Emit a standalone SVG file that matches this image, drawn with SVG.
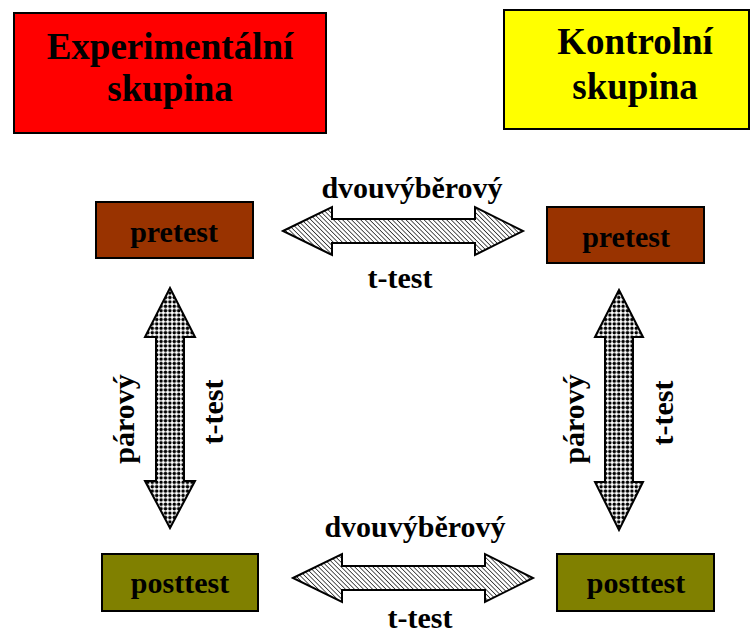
<svg xmlns="http://www.w3.org/2000/svg" width="756" height="635" viewBox="0 0 756 635">
  <defs>
    <pattern id="hatch" width="3.2" height="3.2" patternUnits="userSpaceOnUse" patternTransform="rotate(-45)">
      <rect width="3.2" height="3.2" fill="#fff"/>
      <line x1="0" y1="0" x2="0" y2="3.2" stroke="#000" stroke-width="1.3"/>
    </pattern>
    <pattern id="dots" width="4.4" height="4.4" patternUnits="userSpaceOnUse" x="0.5" y="0.5">
      <rect width="4.4" height="4.4" fill="#fff"/>
      <circle cx="2.2" cy="2.2" r="1.75" fill="#000"/>
    </pattern>
    <style>
      .box { stroke: #000; stroke-width: 2; }
      .big { font-weight: bold; font-size: 37px; fill: #000; text-anchor: middle; }
      .lbl { font-weight: bold; font-size: 30px; fill: #000; text-anchor: middle; }
      .arr { stroke: #000; stroke-width: 2; stroke-linejoin: miter; }
    </style>
  </defs>

  <g font-family="Liberation Serif, Times New Roman, serif">
  <g id="experimentalni">
    <rect class="box" x="14" y="13" width="312" height="120" fill="#FF0000"/>
    <text class="big" x="170" y="59">Experimentální</text>
    <text class="big" x="170" y="101">skupina</text>
  </g>

  <g id="kontrolni">
    <rect class="box" x="504" y="10" width="245" height="119" fill="#FFFF00"/>
    <text class="big" x="635" y="54">Kontrolní</text>
    <text class="big" x="635" y="99">skupina</text>
  </g>

  <g id="pretest-exp">
    <rect class="box" x="96" y="202" width="157" height="56" fill="#993300"/>
    <text class="lbl" x="174" y="242">pretest</text>
  </g>

  <g id="pretest-kon">
    <rect class="box" x="547" y="207" width="157" height="56" fill="#993300"/>
    <text class="lbl" x="626" y="247">pretest</text>
  </g>

  <g id="posttest-exp">
    <rect class="box" x="102" y="554" width="156" height="57" fill="#808000"/>
    <text class="lbl" x="180" y="593">posttest</text>
  </g>

  <g id="posttest-kon">
    <rect class="box" x="557" y="554" width="157" height="57" fill="#808000"/>
    <text class="lbl" x="636" y="593">posttest</text>
  </g>

  <g id="connectors">
    <path class="arr" fill="url(#hatch)" d="M283,231 L332,207 L332,219 L475,219 L475,207 L523,231 L475,255 L475,243 L332,243 L332,255 Z"/>
    <text class="lbl" x="412" y="198">dvouvýběrový</text>
    <text class="lbl" x="400" y="288">t-test</text>

    <path class="arr" fill="url(#hatch)" d="M293,578 L342,554 L342,566 L485,566 L485,554 L533,578 L485,602 L485,590 L342,590 L342,602 Z"/>
    <text class="lbl" x="415" y="537">dvouvýběrový</text>
    <text class="lbl" x="420" y="628">t-test</text>

    <path class="arr" fill="url(#dots)" d="M170,288 L195,337 L184,337 L184,481 L195,481 L170,528 L145,481 L156,481 L156,337 L145,337 Z"/>
    <text class="lbl" transform="translate(134,419) rotate(-90)">párový</text>
    <text class="lbl" transform="translate(223,412) rotate(-90)">t-test</text>

    <path class="arr" fill="url(#dots)" d="M619,290 L643,337 L633,337 L633,482 L643,482 L619,530 L595,482 L605,482 L605,337 L595,337 Z"/>
    <text class="lbl" transform="translate(584,419) rotate(-90)">párový</text>
    <text class="lbl" transform="translate(673,413) rotate(-90)">t-test</text>
  </g>
  </g>
</svg>
